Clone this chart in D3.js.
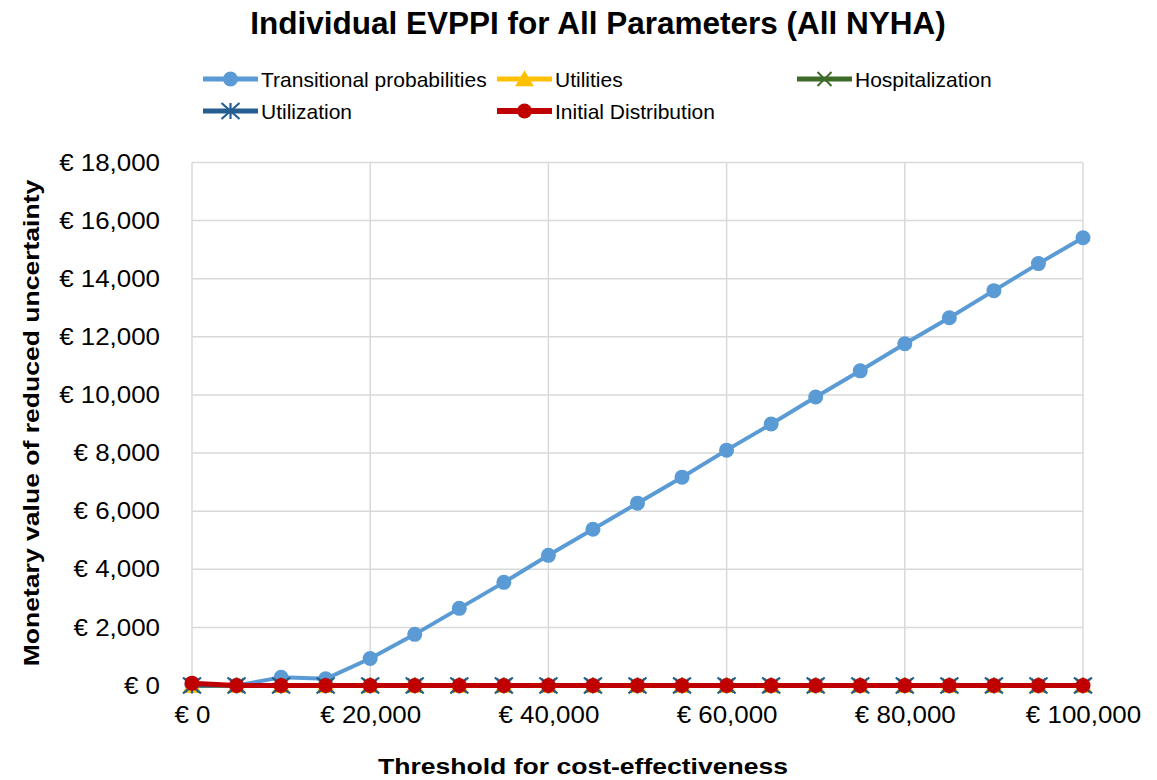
<!DOCTYPE html>
<html>
<head>
<meta charset="utf-8">
<script src="https://cdn.jsdelivr.net/npm/d3@7"></script>
<style>
body{margin:0;background:#fff;font-family:"Liberation Sans",Arial,sans-serif;}
</style>
</head>
<body>
<div id="chart"></div>
<script>
// data
const thresholds = [0,5000,10000,15000,20000,25000,30000,35000,40000,45000,50000,55000,60000,65000,70000,75000,80000,85000,90000,95000,100000];
const transitional = [0,0,280,230,930,1760,2655,3550,4480,5380,6275,7170,8100,9000,9930,10830,11760,12655,13590,14520,15410];
const utilities = [0,0,0,0,0,0,0,0,0,0,0,0,0,0,0,0,0,0,0,0,0];
const hospitalization = [0,0,0,0,0,0,0,0,0,0,0,0,0,0,0,0,0,0,0,0,0];
const utilization = [0,0,0,0,0,0,0,0,0,0,0,0,0,0,0,0,0,0,0,0,0];
const initialDist = [80,0,0,0,0,0,0,0,0,0,0,0,0,0,0,0,0,0,0,0,0];
const xTicks = [0,20000,40000,60000,80000,100000];
const yTicks = [0,2000,4000,6000,8000,10000,12000,14000,16000,18000];

const W = 1157, H = 780;
const svg = d3.select("#chart").append("svg").attr("width", W).attr("height", H);

const x = d3.scaleLinear().domain([0,100000]).range([192,1083]);
const y = d3.scaleLinear().domain([0,18000]).range([685.5,162.5]);
const fmt = v => "€ " + d3.format(",")(v);
const sx = 1.08; // the original text is a bit wide

// grid
svg.append("g").selectAll("line").data(yTicks).enter().append("line")
  .attr("x1", 192).attr("x2", 1083)
  .attr("y1", d => y(d)).attr("y2", d => y(d))
  .style("stroke", "#d9d9d9").style("stroke-width", 1.5);
svg.append("g").selectAll("line").data(xTicks).enter().append("line")
  .attr("y1", 162.5).attr("y2", 685.5)
  .attr("x1", d => x(d)).attr("x2", d => x(d))
  .style("stroke", "#d9d9d9").style("stroke-width", 1.5);

// axes (labels only)
let axY = svg.append("g").attr("transform","translate(192,0)")
  .call(d3.axisLeft(y).tickValues(yTicks).tickFormat(fmt).tickSize(0).tickPadding(32));
let axX = svg.append("g").attr("transform","translate(0,685.5)")
  .call(d3.axisBottom(x).tickValues(xTicks).tickFormat(fmt).tickSize(0).tickPadding(20));
[axY, axX].forEach(a => {
  a.select(".domain").remove();
  a.selectAll("text").style("font-family","Liberation Sans, Arial, sans-serif")
   .style("font-size","24px").style("fill","#000")
   .attr("x", function(){ return +d3.select(this).attr("x")/sx })
   .attr("transform","scale("+sx+",1)");
});

const line = vals => d3.line().x((d,i) => x(thresholds[i])).y(d => y(d))(vals);

// series
const series = [
  {name:"Transitional probabilities", vals:transitional, color:"#5b9bd5", w:4, marker:"circle"},
  {name:"Utilities", vals:utilities, color:"#ffc000", w:4, marker:"triangle"},
  {name:"Hospitalization", vals:hospitalization, color:"#3f6b2a", w:4, marker:"x"},
  {name:"Utilization", vals:utilization, color:"#255e91", w:4, marker:"star"},
  {name:"Initial Distribution", vals:initialDist, color:"#c00000", w:5, marker:"circle"}
];

function drawMarker(g, type, color, cx, cy){
  if(type=="circle"){
    g.append("circle").attr("cx",cx).attr("cy",cy).attr("r",7.5).style("fill",color);
  } else if(type=="triangle"){
    g.append("path").attr("d", d3.symbol().type(d3.symbolTriangle).size(150)())
      .attr("transform","translate("+cx+","+(cy+2)+")").style("fill",color);
  } else if(type=="x"){
    g.append("path").attr("d","M-7,-7L7,7M-7,7L7,-7").attr("transform","translate("+cx+","+cy+")")
      .style("stroke",color).style("stroke-width",2);
  } else {
    g.append("path").attr("d","M-9,-8L9,8M-9,8L9,-8M0,-8L0,8").attr("transform","translate("+cx+","+cy+")")
      .style("stroke",color).style("stroke-width",2.2);
  }
}

series.forEach(s => {
  let g = svg.append("g");
  g.append("path").attr("d", line(s.vals)).style("fill","none")
    .style("stroke", s.color).style("stroke-width", s.w).style("stroke-linejoin","round");
  s.vals.forEach((v,i) => drawMarker(g, s.marker, s.color, x(thresholds[i]), y(v)));
});

// legend
const legPos = [[203,79],[497,79],[797,79],[203,111],[497,111]];
series.forEach((s,i) => {
  let lg = svg.append("g").attr("transform","translate("+legPos[i][0]+","+legPos[i][1]+")");
  lg.append("line").attr("x1",0).attr("x2",55).attr("y1",0).attr("y2",0)
    .style("stroke",s.color).style("stroke-width",s.w+1);
  drawMarker(lg, s.marker, s.color, 27.5, 0);
  lg.append("text").text(s.name).attr("x",58).attr("y",8)
    .style("font-size","21px").style("fill","#000");
});

// titles
svg.append("text").text("Individual EVPPI for All Parameters (All NYHA)")
  .attr("x",598).attr("y",34).attr("text-anchor","middle")
  .style("font-size","31.5px").style("font-weight","bold");
svg.append("text").text("Threshold for cost-effectiveness")
  .attr("transform","translate(583,773.5) scale(1.18,1)").attr("text-anchor","middle")
  .style("font-size","22.5px").style("font-weight","bold");
svg.append("text").text("Monetary value of reduced uncertainty")
  .attr("transform","translate(39,423) rotate(-90) scale(1.18,1)").attr("text-anchor","middle")
  .style("font-size","22.5px").style("font-weight","bold");
</script>
</body>
</html>
